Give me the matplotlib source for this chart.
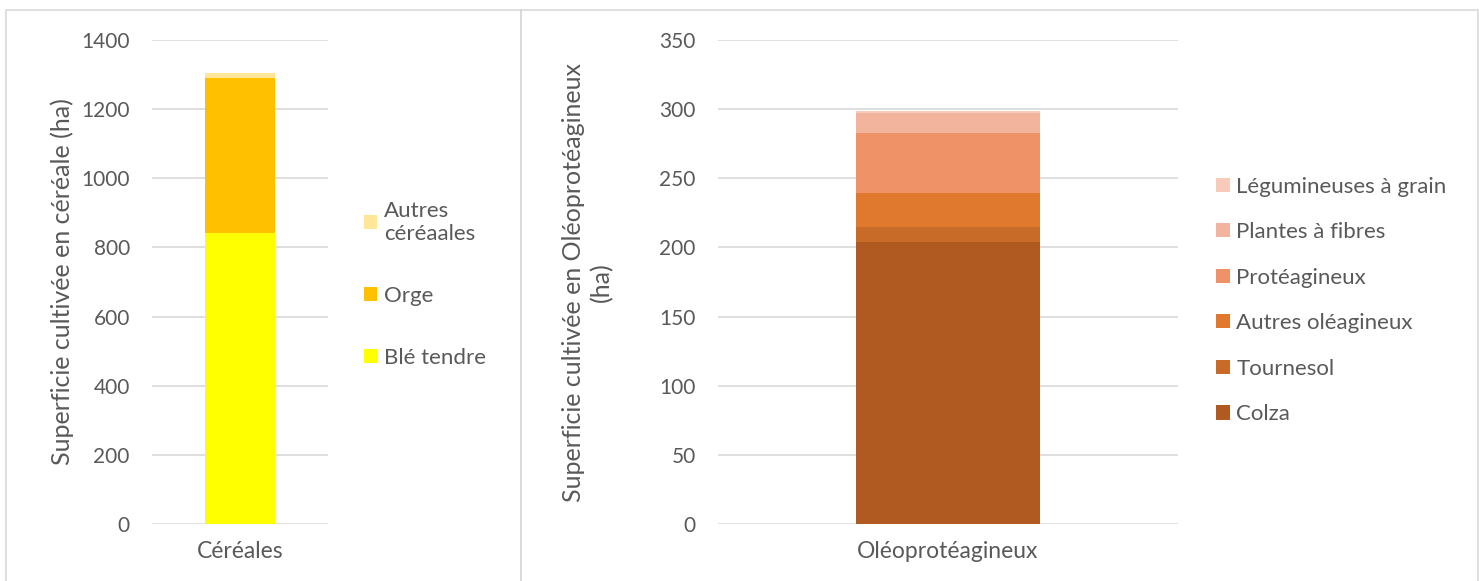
import matplotlib.pyplot as plt
from matplotlib.patches import Rectangle

# Données (ha)
cereales = ['Blé tendre', 'Orge', 'Autres\ncéréaales']
valeurs_cereales = [843, 448, 14]
couleurs_cereales = ['#FFFF00', '#FFC000', '#FFE699']

oleo = ['Colza', 'Tournesol', 'Autres oléagineux', 'Protéagineux',
        'Plantes à fibres', 'Légumineuses à grain']
valeurs_oleo = [204, 11, 24.5, 43.5, 14.5, 1.2]
couleurs_oleo = ['#B05A22', '#C86A28', '#E0782E', '#F09268', '#F2B49C', '#F7CABA']

gris = '#595959'
grille = '#D9D9D9'
plt.rcParams['font.family'] = ['Lato', 'DejaVu Sans']

W, H = 1479, 581
fig = plt.figure(figsize=(W / 100, H / 100), dpi=100)

# cadres des deux graphiques
fig.patches.append(Rectangle((6 / W, -0.1), (521 - 6) / W, 1.1 - 10 / H,
                             transform=fig.transFigure, fill=False,
                             edgecolor=grille, lw=1.2))
fig.patches.append(Rectangle((521 / W, -0.1), (1478 - 521) / W, 1.1 - 10 / H,
                             transform=fig.transFigure, fill=False,
                             edgecolor=grille, lw=1.2))


def style_axe(ax, ymax, pas):
    ax.set_ylim(0, ymax)
    ax.set_xlim(-0.5, 0.5)
    ax.set_yticks(range(0, ymax + 1, pas))
    ax.grid(axis='y', color=grille, lw=1.2)
    ax.set_axisbelow(True)
    for s in ax.spines.values():
        s.set_visible(False)
    ax.tick_params(length=0, colors=gris)
    ax.tick_params(axis='y', pad=16, labelsize=15)
    ax.tick_params(axis='x', pad=12, labelsize=16.5)


# --- Céréales ---
ax1 = fig.add_axes([152 / W, 57 / H, 176 / W, 484 / H])
bas = 0
for nom, v, c in zip(cereales, valeurs_cereales, couleurs_cereales):
    ax1.bar(0, v, bottom=bas, width=0.403, color=c, label=nom)
    bas += v
style_axe(ax1, 1400, 200)
ax1.set_xticks([0])
ax1.set_xticklabels(['Céréales'])
ax1.set_ylabel('Superficie cultivée en céréale (ha)', color=gris, fontsize=18, labelpad=5)
h, l = ax1.get_legend_handles_labels()
leg1 = ax1.legend(h[::-1], l[::-1], loc='center left', bbox_to_anchor=(1.09, 0.495),
                  frameon=False, handlelength=0.6, handleheight=0.6,
                  handletextpad=0.3, labelspacing=1.9, fontsize=16)
for t in leg1.get_texts():
    t.set_color(gris)

# --- Oléoprotéagineux ---
ax2 = fig.add_axes([718 / W, 57 / H, 460 / W, 484 / H])
bas = 0
for nom, v, c in zip(oleo, valeurs_oleo, couleurs_oleo):
    ax2.bar(0, v, bottom=bas, width=0.402, color=c, label=nom)
    bas += v
style_axe(ax2, 350, 50)
ax2.set_xticks([0])
ax2.set_xticklabels(['Oléoprotéagineux'])
ax2.set_ylabel('Superficie cultivée en Oléoprotéagineux\n(ha)', color=gris, fontsize=18,
               labelpad=33, linespacing=1.25)
h, l = ax2.get_legend_handles_labels()
leg2 = ax2.legend(h[::-1], l[::-1], loc='center left', bbox_to_anchor=(1.04, 0.462),
                  frameon=False, handlelength=0.6, handleheight=0.6,
                  handletextpad=0.3, labelspacing=1.15, fontsize=16)
for t in leg2.get_texts():
    t.set_color(gris)

fig.savefig('out.png', dpi=100)
